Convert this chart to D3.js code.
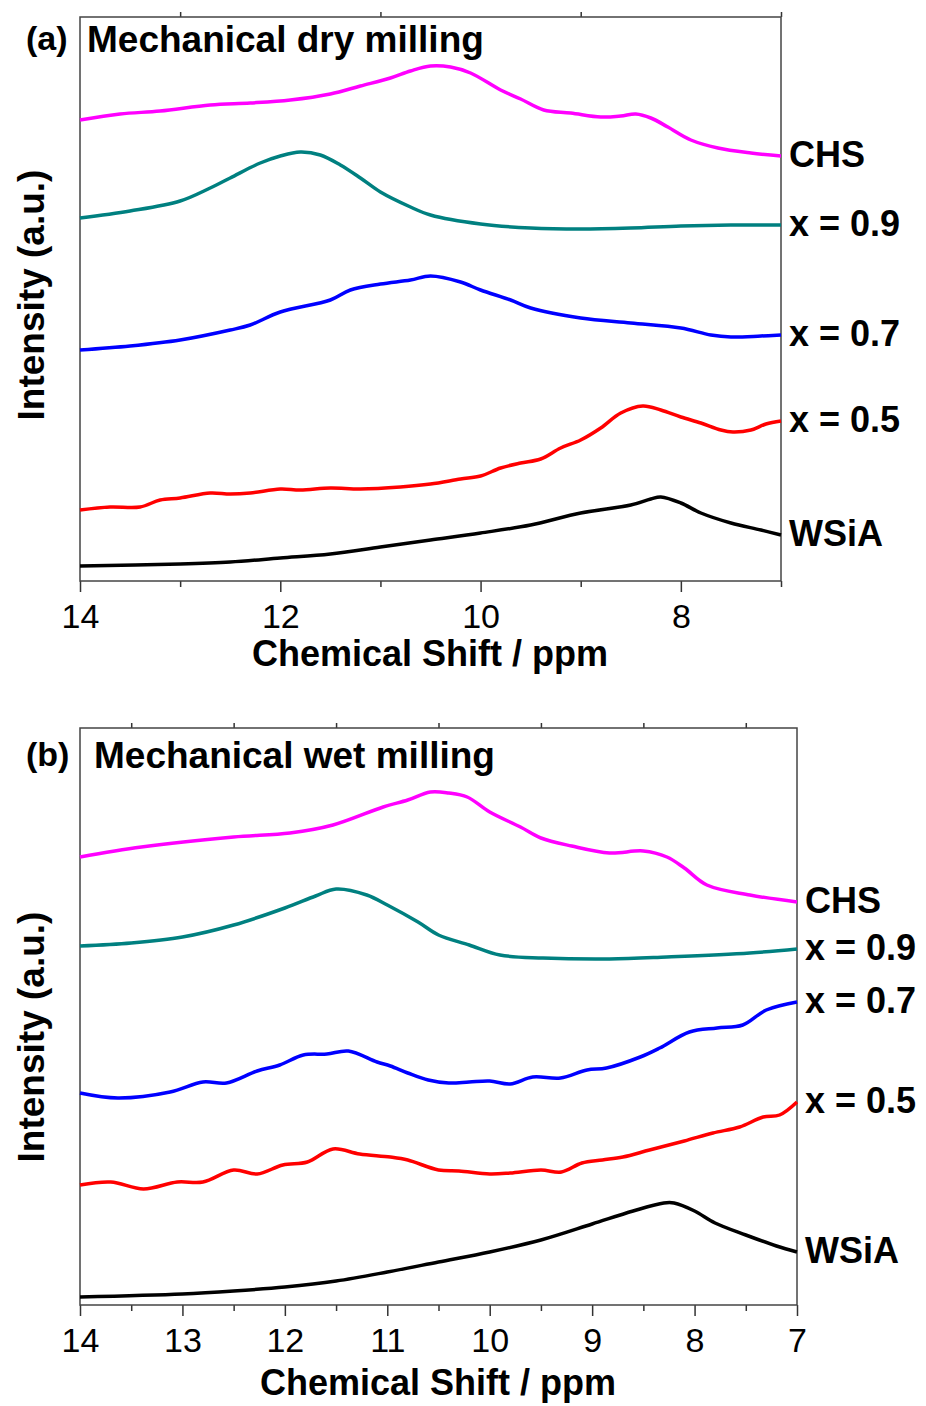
<!DOCTYPE html>
<html>
<head>
<meta charset="utf-8">
<script src="https://cdn.jsdelivr.net/npm/d3@7"></script>
<style>
  body { margin: 0; background: #fff; }
  text { font-family: "Liberation Sans", Arial, sans-serif; }
</style>
</head>
<body>
<div id="chart"></div>
<script>
// series names, top to bottom
var names = ["CHS", "x = 0.9", "x = 0.7", "x = 0.5", "WSiA"];

// (a) mechanical dry milling : [ppm, intensity a.u.]
var dryCHS = [[14,461],[13.6,467],[13.2,470],[12.7,476],[12.3,478],[11.9,481],[11.5,487],[11.2,495],[10.9,503],[10.7,510],[10.5,515],[10.3,514],[10.1,508],[9.8,491],[9.6,482],[9.37,471],[9.1,468],[8.8,464],[8.6,465],[8.45,467],[8.3,463],[8.13,454],[7.9,441],[7.63,433],[7.3,428],[7.0,425]];
var dry09 = [[14,363],[13.5,370],[13,380],[12.7,393],[12.5,403],[12.2,418],[12,425],[11.8,429],[11.6,426],[11.4,416],[11.2,403],[11,389],[10.7,374],[10.5,366],[10,357],[9.5,353],[9,352],[8.5,353],[8,355],[7.5,356],[7,356]];
var dry07 = [[14,231],[13.5,235],[13,241],[12.5,251],[12.3,256],[12,269],[11.5,281],[11.3,291],[11,297],[10.7,301],[10.5,305],[10.2,299],[10,291],[9.7,281],[9.5,273],[9,263],[8.5,258],[8,253],[7.7,246],[7.5,244],[7.2,245],[7,246]];
var dry05 = [[14,71],[13.7,74],[13.4,74],[13.2,81],[13,83],[12.7,88],[12.5,87],[12.3,88],[12,92],[11.8,91],[11.5,93],[11.2,92],[10.8,94],[10.5,97],[10.2,102],[10,105],[9.8,113],[9.6,118],[9.4,122],[9.2,133],[9,141],[8.8,153],[8.6,168],[8.38,175],[8.2,171],[8,164],[7.8,158],[7.6,151],[7.48,149],[7.3,151],[7.15,157],[7,160]];
var dryWSiA = [[14,15],[13,17],[12.5,19],[12,23],[11.5,27],[11,34],[10.5,41],[10,48],[9.5,56],[9,68],[8.5,76],[8.3,82],[8.2,84],[8,78],[7.8,68],[7.5,58],[7.2,51],[7,46]];

// (b) mechanical wet milling
var wetCHS = [[14,448],[13.4,458],[12.5,468],[11.95,472],[11.53,480],[11.04,498],[10.8,505],[10.58,513],[10.4,512],[10.22,508],[10,493],[9.7,478],[9.5,467],[9.2,459],[8.83,452],[8.5,454],[8.27,448],[8.1,437],[7.88,420],[7.46,410],[7,403]];
var wet09 = [[14,359],[13.5,362],[13,368],[12.5,380],[12,397],[11.7,409],[11.5,416],[11.2,410],[11,400],[10.7,383],[10.5,370],[10.2,360],[9.9,350],[9.48,347],[8.83,346],[8.27,348],[7.46,352],[7,356]];
var wet07 = [[14,212],[13.63,207],[13.12,213],[12.8,223],[12.57,222],[12.27,234],[12.05,240],[11.82,250],[11.59,251],[11.38,254],[11.1,243],[10.97,239],[10.8,232],[10.6,225],[10.4,222],[10.2,223],[10,224],[9.8,221],[9.58,228],[9.31,227],[9.05,235],[8.86,237],[8.53,248],[8.34,257],[8.05,273],[7.78,277],[7.53,280],[7.3,295],[7,303]];
var wet05 = [[14,120],[13.7,123],[13.38,116],[13.05,123],[12.8,123],[12.5,135],[12.27,131],[12.02,140],[11.78,143],[11.53,156],[11.27,151],[10.97,148],[10.8,145],[10.5,135],[10.3,134],[10,131],[9.8,132],[9.5,135],[9.3,133],[9.1,142],[8.9,145],[8.7,148],[8.44,155],[8.1,164],[7.82,172],[7.56,178],[7.33,188],[7.17,190],[7,203]];
var wetWSiA = [[14,8],[13,11],[12.5,14],[12,18],[11.5,24],[11,33],[10.5,43],[10,53],[9.5,65],[9,81],[8.6,94],[8.3,102],[8.2,102],[8,94],[7.8,82],[7.5,70],[7.2,59],[7,53]];

// tick values
var dryMajor = [14, 12, 10, 8];
var dryMinor = [13, 11, 9, 7];
var wetMajor = [14, 13, 12, 11, 10, 9, 8, 7];
var wetMinor = [13.5, 12.5, 11.5, 10.5, 9.5, 8.5, 7.5];

var colors = ["#ff00ff", "#008080", "#0000ff", "#ff0000", "#000000"];

var W = 926, H = 1406;
var svg = d3.select("#chart").append("svg")
    .attr("width", W)
    .attr("height", H);

function panel(opt) {
    var x = d3.scaleLinear().domain([14, 7]).range([opt.left, opt.right]);
    var y = d3.scaleLinear().domain([0, opt.bottom - opt.top]).range([opt.bottom, opt.top]);
    var g = svg.append("g");

    // bottom axis, major ticks with labels
    var ax = g.append("g")
        .attr("transform", "translate(0," + opt.bottom + ")")
        .call(d3.axisBottom(x).tickValues(opt.major).tickFormat(d3.format("d"))
            .tickSize(11).tickSizeOuter(0).tickPadding(12));
    ax.select(".domain").remove();
    ax.selectAll("line").attr("stroke", "#333").attr("stroke-width", 1.5);
    ax.selectAll("text")
        .attr("fill", "#000")
        .style("font-size", "34px")
        .style("font-family", "'Liberation Sans', Arial, sans-serif");

    // bottom minor ticks
    var axm = g.append("g")
        .attr("transform", "translate(0," + opt.bottom + ")")
        .call(d3.axisBottom(x).tickValues(opt.minor).tickFormat("").tickSize(6).tickSizeOuter(0));
    axm.select(".domain").remove();
    axm.selectAll("line").attr("stroke", "#333").attr("stroke-width", 1.5);

    // top minor ticks (outward)
    var axt = g.append("g")
        .attr("transform", "translate(0," + opt.top + ")")
        .call(d3.axisTop(x).tickValues(opt.topTicks).tickFormat("").tickSize(5).tickSizeOuter(0));
    axt.select(".domain").remove();
    axt.selectAll("line").attr("stroke", "#333").attr("stroke-width", 1.5);

    // frame
    g.append("rect")
        .attr("x", opt.left)
        .attr("y", opt.top)
        .attr("width", opt.right - opt.left)
        .attr("height", opt.bottom - opt.top)
        .attr("fill", "none")
        .attr("stroke", "#444")
        .attr("stroke-width", 1.5);

    var line = d3.line()
        .x(function(d) { return x(d[0]); })
        .y(function(d) { return y(d[1]); })
        .curve(d3.curveCatmullRom.alpha(0.5));

    g.selectAll("path.spec")
        .data(opt.series)
        .enter().append("path")
        .attr("class", "spec")
        .attr("d", line)
        .attr("fill", "none")
        .attr("stroke", function(d, i) { return colors[i]; })
        .attr("stroke-width", 3.5)
        .attr("stroke-linejoin", "round");

    // series labels at the right end of each curve
    g.selectAll("text.lbl")
        .data(opt.series)
        .enter().append("text")
        .attr("class", "lbl")
        .attr("x", opt.right + 8)
        .attr("y", function(d) { return y(d[d.length - 1][1]) + 11; })
        .style("font-size", "36px")
        .style("font-weight", "bold")
        .text(function(d, i) { return names[i]; });

    // panel letter and title
    g.append("text")
        .attr("x", 26)
        .attr("y", opt.top + opt.titleDy - 2)
        .style("font-size", "34px")
        .style("font-weight", "bold")
        .text(opt.letter);
    g.append("text")
        .attr("x", opt.left + opt.titleDx)
        .attr("y", opt.top + opt.titleDy)
        .style("font-size", "37px")
        .style("font-weight", "bold")
        .text(opt.title);

    // axis titles
    g.append("text")
        .attr("x", opt.xTitleX)
        .attr("y", opt.bottom + opt.xTitleDy)
        .attr("text-anchor", "middle")
        .style("font-size", "36px")
        .style("font-weight", "bold")
        .text("Chemical Shift / ppm");
    g.append("text")
        .attr("transform", "translate(44," + opt.yTitleY + ")rotate(-90)")
        .attr("text-anchor", "middle")
        .style("font-size", "37px")
        .style("font-weight", "bold")
        .text("Intensity (a.u.)");
}

panel({
    left: 80, right: 781, top: 17, bottom: 581,
    major: dryMajor, minor: dryMinor, topTicks: dryMinor,
    series: [dryCHS, dry09, dry07, dry05, dryWSiA],
    letter: "(a)", title: "Mechanical dry milling", titleDx: 7, titleDy: 35,
    xTitleX: 430, xTitleDy: 85, yTitleY: 295
});

panel({
    left: 80, right: 797, top: 728, bottom: 1305,
    major: wetMajor, minor: wetMinor, topTicks: wetMinor,
    series: [wetCHS, wet09, wet07, wet05, wetWSiA],
    letter: "(b)", title: "Mechanical wet milling", titleDx: 14, titleDy: 40,
    xTitleX: 438, xTitleDy: 90, yTitleY: 1037
});
</script>
</body>
</html>
